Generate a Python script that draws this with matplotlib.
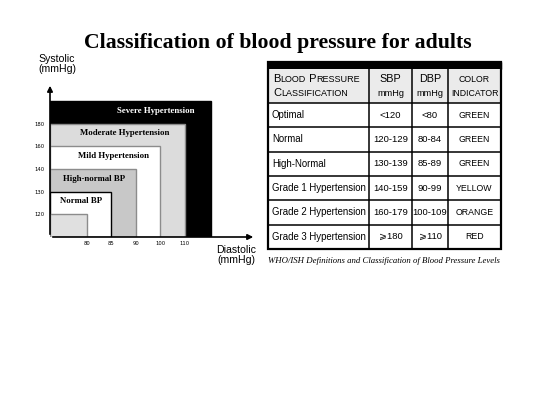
import matplotlib
matplotlib.use("Agg")
import matplotlib.pyplot as plt
from matplotlib.patches import Rectangle
from matplotlib.offsetbox import TextArea, HPacker, AnnotationBbox
from matplotlib import font_manager

# left chart: nested zones, limits
dbp_ticks = [80, 85, 90, 100, 110]
sbp_ticks = [120, 130, 140, 160, 180]
zone_names = ["Severe Hypertension", "Moderate Hypertension", "Mild Hypertension",
              "High-normal BP", "Normal BP", ""]
zone_faces = ["black", "#dcdcdc", "white", "#c8c8c8", "white", "#e0e0e0"]
zone_edges = ["black", "#8c8c8c", "#8c8c8c", "#8c8c8c", "black", "#8c8c8c"]
zone_text = ["white", "black", "black", "black", "black", "black"]

# right table
row_labels = ["Optimal", "Normal", "High-Normal", "Grade 1 Hypertension",
              "Grade 2 Hypertension", "Grade 3 Hypertension"]
sbp_ranges = ["<120", "120-129", "130-139", "140-159", "160-179", "\u2a7e180"]
dbp_ranges = ["<80", "80-84", "85-89", "90-99", "100-109", "\u2a7e110"]
color_codes = ["GREEN", "GREEN", "GREEN", "YELLOW", "ORANGE", "RED"]

names = {f.name for f in font_manager.fontManager.ttflist}
narrow = "Liberation Sans Narrow" in names
body_font = ["Liberation Sans Narrow", "DejaVu Sans"] if narrow else ["Liberation Sans", "DejaVu Sans"]
body_size = 8.0 if narrow else 6.6
serif = "Liberation Serif"
sans = ["Liberation Sans", "DejaVu Sans"]

W, H = 540, 396
fig = plt.figure(figsize=(W / 100, H / 100), dpi=100)

# page layer in pixel units for table and captions
pg = fig.add_axes([0, 0, 1, 1])
pg.set_xlim(0, W)
pg.set_ylim(H, 0)
pg.axis("off")

pg.text(278, 43, "Classification of blood pressure for adults", ha="center", va="center",
        family=serif, fontweight="bold", fontsize=15.7)

# ---- left chart ----
x0, x1, y0, y1 = 50, 256, 237, 83
ax = fig.add_axes([x0 / W, 1 - y0 / H, (x1 - x0) / W, (y0 - y1) / H])
ax.set_xlim(0, 8.4)
ax.set_ylim(0, 6.8)
for s in ax.spines.values():
    s.set_visible(False)

xpos = [1.5 + i for i in range(len(dbp_ticks))]
ypos = [1 + i for i in range(len(sbp_ticks))]
rights = [xpos[-1] + 1.05] + xpos[::-1]
tops = [ypos[-1] + 1.0] + ypos[::-1]
label_x = [4.3, 3.05, 2.6, 1.8, 1.25]
for i in range(len(zone_faces)):
    ax.add_patch(Rectangle((0, 0), rights[i], tops[i], facecolor=zone_faces[i],
                           edgecolor=zone_edges[i], lw=1.0))
    if zone_names[i]:
        ax.text(label_x[i], tops[i] - 0.42, zone_names[i], ha="center", va="center",
                family=serif, fontweight="bold", fontsize=6.3, color=zone_text[i])

ax.annotate("", xy=(8.4, 0), xytext=(0, 0), xycoords="data",
            arrowprops=dict(arrowstyle="-|>", lw=1.2, color="black", mutation_scale=8),
            annotation_clip=False)
ax.annotate("", xy=(0, 6.8), xytext=(0, 0), xycoords="data",
            arrowprops=dict(arrowstyle="-|>", lw=1.2, color="black", mutation_scale=8),
            annotation_clip=False)

ax.set_xticks(xpos, [str(v) for v in dbp_ticks])
ax.set_yticks(ypos, [str(v) for v in sbp_ticks])
ax.tick_params(length=0, labelsize=3.8, pad=3)
ax.tick_params(axis="y", pad=4)

pg.text(38, 64, "Systolic\n(mmHg)", ha="left", va="center", family=sans,
        fontsize=7.6, linespacing=1.05)
pg.text(236, 255, "Diastolic\n(mmHg)", ha="center", va="center", family=sans,
        fontsize=7.6, linespacing=1.0)

# ---- right table ----
cols = [268, 369, 412, 448, 501]
band_top, head_top, head_bot = 62, 69, 103
row_h = 24.3
n = len(row_labels)
row_edges = [head_bot + row_h * k for k in range(n + 1)]
bottom = row_edges[-1]

pg.add_patch(Rectangle((cols[0], band_top), cols[-1] - cols[0], head_top - band_top,
                       facecolor="black", edgecolor="black", lw=1))
pg.add_patch(Rectangle((cols[0], head_top), cols[-1] - cols[0], head_bot - head_top,
                       facecolor="#ebebeb", edgecolor="none"))
for c in cols[1:-1]:
    pg.plot([c, c], [head_top, bottom], color="black", lw=1.1)
for r in row_edges[:-1]:
    pg.plot([cols[0], cols[-1]], [r, r], color="black", lw=1.1)
pg.add_patch(Rectangle((cols[0], band_top), cols[-1] - cols[0], bottom - band_top,
                       facecolor="none", edgecolor="black", lw=1.6))


def small_caps(words, big, small):
    parts = []
    for j, w in enumerate(words):
        lead = (" " if j else "") + w[0]
        parts.append(TextArea(lead, textprops=dict(fontsize=big, family=sans)))
        parts.append(TextArea(w[1:], textprops=dict(fontsize=small, family=sans)))
    return HPacker(children=parts, align="baseline", pad=0, sep=0)


for words, yy in [(["BLOOD", "PRESSURE"], 79), (["CLASSIFICATION"], 93)]:
    ab = AnnotationBbox(small_caps(words, 8.0, 6.5), (273, yy), xycoords="data",
                        box_alignment=(0, 0.5), frameon=False, pad=0)
    pg.add_artist(ab)

hx = [(cols[i] + cols[i + 1]) / 2 for i in range(len(cols) - 1)]
pg.text(hx[1], 79, "SBP", ha="center", va="center", family=sans, fontsize=7.8)
pg.text(hx[1], 94, "mmHg", ha="center", va="center", family=sans, fontsize=6.6)
pg.text(hx[2], 79, "DBP", ha="center", va="center", family=sans, fontsize=7.8)
pg.text(hx[2], 94, "mmHg", ha="center", va="center", family=sans, fontsize=6.6)
pg.text(hx[3], 79, "COLOR", ha="center", va="center", family=sans, fontsize=6.3)
pg.text(hx[3], 94, "INDICATOR", ha="center", va="center", family=sans, fontsize=6.3)

for k in range(n):
    yc = (row_edges[k] + row_edges[k + 1]) / 2
    pg.text(272, yc, row_labels[k], ha="left", va="center", family=body_font,
            fontsize=body_size + 0.3)
    pg.text(hx[1], yc, sbp_ranges[k], ha="center", va="center", family=body_font,
            fontsize=body_size + 0.2)
    pg.text(hx[2], yc, dbp_ranges[k], ha="center", va="center", family=body_font,
            fontsize=body_size + 0.2)
    pg.text(hx[3], yc, color_codes[k], ha="center", va="center", family=sans,
            fontsize=6.3)

pg.text(268, 261, "WHO/ISH Definitions and Classification of Blood Pressure Levels",
        ha="left", va="center", family=serif, style="italic", fontsize=6.3)

fig.savefig("out.png", dpi=100)
